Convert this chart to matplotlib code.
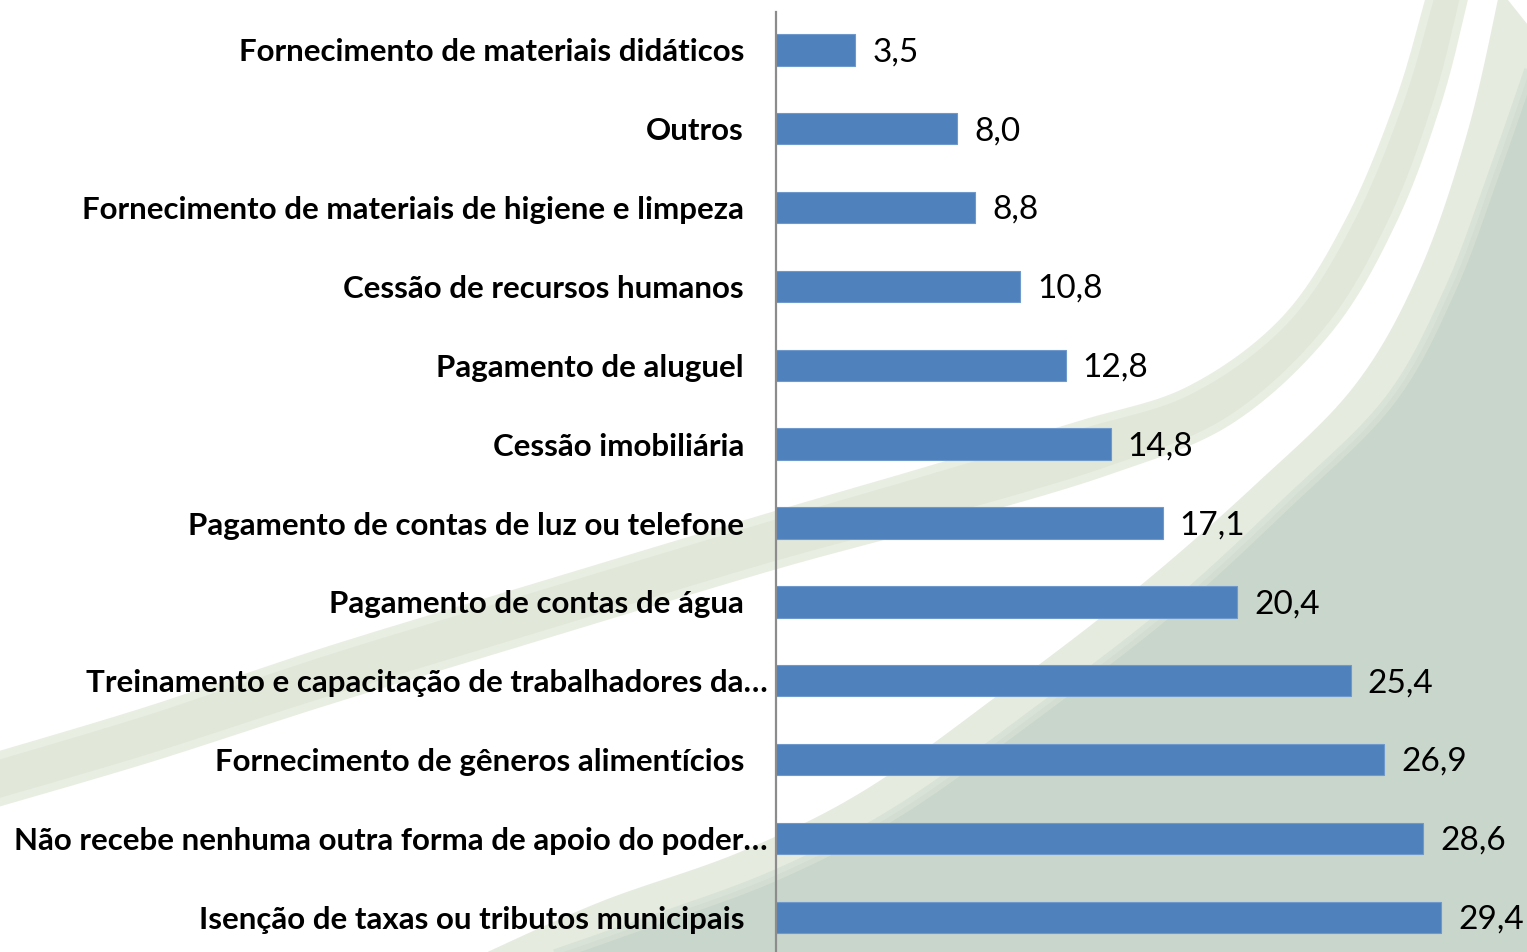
import numpy as np
import matplotlib
matplotlib.use("Agg")
import matplotlib.pyplot as plt

# data, top to bottom as in the chart
categorias = [
    "Fornecimento de materiais didáticos",
    "Outros",
    "Fornecimento de materiais de higiene e limpeza",
    "Cessão de recursos humanos",
    "Pagamento de aluguel",
    "Cessão imobiliária",
    "Pagamento de contas de luz ou telefone",
    "Pagamento de contas de água",
    "Treinamento e capacitação de trabalhadores da…",
    "Fornecimento de gêneros alimentícios",
    "Não recebe nenhuma outra forma de apoio do poder…",
    "Isenção de taxas ou tributos municipais",
]
valores = [3.5, 8.0, 8.8, 10.8, 12.8, 14.8, 17.1, 20.4, 25.4, 26.9, 28.6, 29.4]
rotulos = ["3,5", "8,0", "8,8", "10,8", "12,8", "14,8", "17,1", "20,4",
           "25,4", "26,9", "28,6", "29,4"]


def catmull(pts, n=40):
    # smooth curve through points
    p = np.array(pts, dtype=float)
    p = np.vstack([p[0], p, p[-1]])
    out = []
    for i in range(1, len(p) - 2):
        p0, p1, p2, p3 = p[i - 1], p[i], p[i + 1], p[i + 2]
        t = np.linspace(0, 1, n)[:, None]
        c = 0.5 * ((2 * p1) + (-p0 + p2) * t + (2 * p0 - 5 * p1 + 4 * p2 - p3) * t ** 2
                   + (-p0 + 3 * p1 - 3 * p2 + p3) * t ** 3)
        out.append(c)
    return np.vstack(out)


W, H = 1527, 952
fig = plt.figure(figsize=(W / 100, H / 100), dpi=100)

# decorative background (pixel coordinates)
bg = fig.add_axes([0, 0, 1, 1])
bg.set_xlim(0, W)
bg.set_ylim(H, 0)
bg.axis("off")

# dark region bottom right
borda = catmull([(1540, 40), (1495, 170), (1450, 290), (1390, 400), (1290, 500),
                 (1170, 610), (1040, 710), (900, 810), (776, 875), (640, 925), (540, 960)])
reg = np.vstack([borda, [(1540, 960)]])

# light strip along the dark region
fora = catmull([(1500, -10), (1468, 130), (1420, 270), (1355, 385), (1255, 485),
                (1135, 590), (1005, 690), (865, 790), (740, 852), (600, 902), (470, 960)])
faixa2 = np.vstack([fora, borda[::-1]])
bg.fill(faixa2[:, 0], faixa2[:, 1], color="#e6ebe0", lw=0)
bg.fill(reg[:, 0], reg[:, 1], color="#c9d6cb", lw=0)
bg.plot(borda[:, 0], borda[:, 1], color="#d6e0d4", lw=8, alpha=0.8)

# main swoosh crossing to the left
sup = catmull([(1432, -10), (1400, 100), (1350, 220), (1285, 320), (1190, 390),
               (1080, 425), (930, 470), (776, 515), (560, 580), (330, 650), (150, 710), (-10, 758)])
inf = catmull([(1466, -10), (1438, 100), (1393, 220), (1328, 330), (1230, 420),
               (1110, 470), (960, 515), (776, 565), (560, 630), (330, 700), (150, 758), (-10, 805)])
faixa1 = np.vstack([sup, inf[::-1]])
bg.fill(faixa1[:, 0], faixa1[:, 1], color="#e1e7d9", lw=0)
bg.plot(sup[:, 0], sup[:, 1], color="#e9eee3", lw=6)
bg.plot(inf[:, 0], inf[:, 1], color="#e9eee3", lw=6)

# chart
ax = fig.add_axes([776 / W, 0, 1 - 776 / W, 1 - 12 / H])
ax.set_zorder(2)
ax.patch.set_alpha(0)

y = np.arange(len(categorias))
ax.barh(y, valores, height=0.4, color="#4f81bd", edgecolor="#6f98cc", linewidth=0.8)
for yi, v, r in zip(y, valores, rotulos):
    ax.text(v + 0.75, yi + 0.03, r, va="center", ha="left", fontsize=24,
            family="Lato", color="black")

ax.set_xlim(0, 33.2)
ax.set_ylim(11.44, -0.48)
ax.set_yticks(y)
ax.set_yticklabels(categorias, fontsize=22.5, fontweight="bold", family="Lato")
ax.tick_params(axis="y", length=0, pad=23)
for i, t in enumerate(ax.yaxis.get_major_ticks()):
    if categorias[i].endswith("…"):
        t.set_pad(6)
ax.set_xticks([])
for s in ["top", "right", "bottom"]:
    ax.spines[s].set_visible(False)
ax.spines["left"].set_color("#8c8c8c")
ax.spines["left"].set_linewidth(1.6)

fig.savefig("out.png", dpi=100)
